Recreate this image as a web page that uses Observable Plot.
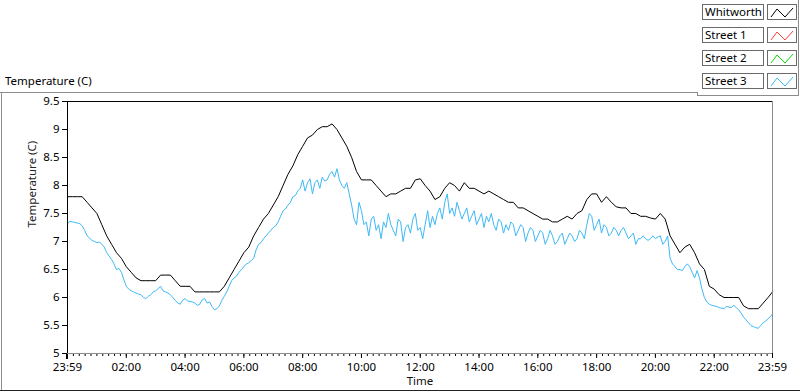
<!DOCTYPE html>
<html><head><meta charset="utf-8">
<script src="https://cdn.jsdelivr.net/npm/d3@7"></script>
<script src="https://cdn.jsdelivr.net/npm/@observablehq/plot@0.6"></script>
<style>
body{margin:0;background:#fff;font-family:"Noto Sans",sans-serif;}
#wrap{position:relative;width:800px;height:392px;overflow:hidden;background:#fff;}
#wrap svg.chart{position:absolute;left:0;top:0;}
.ln{position:absolute;background:#8c8c8c;}
.title{position:absolute;left:5px;top:74px;font-size:11.5px;line-height:14px;color:#000;white-space:nowrap;}
.lname{position:absolute;left:702px;width:62px;height:16px;box-sizing:border-box;border:1px solid #6a6a6a;font-size:11.5px;line-height:14px;padding-left:2px;color:#000;white-space:nowrap;background:#fff;}
.lsw{position:absolute;left:767px;width:30px;height:16px;box-sizing:border-box;border:1px solid #6a6a6a;background:#fff;}
.lsw svg{position:absolute;left:0;top:0;}
</style></head><body>
<div id="wrap"></div>
<script>
// ---- data ----
const whitworthStepMinutes = 10;
const whitworth = [
  7.8,7.8,7.8,7.8,
  7.7,7.6,7.5,7.3,7.1,6.95,
  6.8,6.7,6.55,6.45,6.35,
  6.3,6.3,6.3,6.3,
  6.4,6.4,6.4,
  6.3,
  6.2,6.2,6.2,
  6.1,6.1,6.1,6.1,6.1,6.1,
  6.2,6.35,6.5,6.65,6.8,6.9,7.1,
  7.25,7.4,7.5,7.65,7.8,
  8.0,8.2,8.35,8.55,8.7,8.85,
  8.9,9.0,9.05,9.05,9.1,
  9.0,8.85,8.7,8.5,8.25,
  8.1,8.1,8.1,8.0,7.9,
  7.8,7.85,7.85,7.9,7.95,7.95,
  8.1,8.12,8.0,7.9,7.75,
  7.8,7.95,8.05,8.0,7.9,
  8.05,7.95,7.95,7.9,7.85,
  7.9,7.85,7.8,7.75,7.7,
  7.7,7.6,7.6,7.55,7.5,
  7.45,7.4,7.4,7.35,7.35,
  7.4,7.45,7.4,7.5,7.55,
  7.75,7.85,7.85,7.7,7.8,
  7.7,7.62,7.6,7.6,7.5,
  7.5,7.45,7.45,7.42,7.4,
  7.5,7.4,7.1,6.95,6.8,
  6.9,6.95,6.8,6.6,6.5,
  6.2,6.15,6.05,6.0,6.0,
  6.0,6.0,5.85,5.8,5.8,
  5.8,5.9,6.0,6.1
];
const street3StepMinutes = 5;
const street3 = [
  7.32,7.36,7.35,7.34,7.33,7.32,7.28,7.2,7.1,7.06,
  7.02,7.0,6.98,6.99,6.95,6.9,6.8,6.74,6.68,6.6,
  6.5,6.52,6.45,6.32,6.2,6.15,6.12,6.1,6.08,6.06,
  6.05,6.0,5.98,6.02,6.05,6.1,6.12,6.16,6.2,6.12,
  6.1,6.08,6.05,6.0,5.95,5.9,5.88,5.95,5.98,5.94,
  5.93,5.92,5.9,5.86,5.88,5.96,5.98,5.9,5.92,5.84,
  5.78,5.8,5.85,5.95,6.02,6.1,6.2,6.3,6.35,6.38,
  6.45,6.5,6.55,6.6,6.62,6.66,6.7,6.85,6.95,6.98,
  7.05,7.1,7.15,7.2,7.25,7.28,7.35,7.45,7.55,7.58,
  7.65,7.7,7.8,7.82,7.9,7.95,8.1,7.9,8.05,8.12,
  7.85,8.05,8.1,7.95,8.15,8.08,8.1,8.2,8.25,8.15,
  8.3,8.1,8.0,7.95,8.05,7.85,7.65,7.4,7.3,7.7,
  7.55,7.3,7.35,7.1,7.4,7.45,7.2,7.3,7.05,7.35,
  7.25,7.5,7.3,7.2,7.1,7.4,7.35,7.0,7.25,7.3,
  7.15,7.4,7.5,7.2,7.25,7.05,7.3,7.55,7.25,7.45,
  7.3,7.5,7.6,7.4,7.7,7.85,7.5,7.6,7.45,7.7,
  7.55,7.4,7.5,7.6,7.35,7.45,7.55,7.3,7.4,7.5,
  7.25,7.45,7.35,7.5,7.3,7.2,7.4,7.35,7.15,7.3,
  7.2,7.35,7.3,7.1,7.2,7.3,7.25,7.0,7.15,7.25,
  7.2,7.0,7.1,7.2,7.15,6.95,7.05,7.2,7.1,6.95,
  7.0,7.1,7.15,6.95,7.05,7.15,7.1,7.0,7.05,7.2,
  7.15,7.05,7.3,7.5,7.45,7.2,7.3,7.4,7.15,7.3,
  7.25,7.1,7.15,7.25,7.2,7.1,7.2,7.25,7.15,7.05,
  7.1,7.15,6.95,7.05,7.05,7.1,7.05,7.02,7.05,7.1,
  7.05,7.08,7.1,6.95,7.0,7.1,6.7,6.6,6.55,6.5,
  6.5,6.48,6.55,6.6,6.55,6.45,6.35,6.48,6.35,6.15,
  6.0,5.92,5.88,5.86,5.85,5.84,5.82,5.81,5.8,5.84,
  5.83,5.82,5.86,5.82,5.78,5.72,5.65,5.6,5.55,5.5,
  5.48,5.46,5.45,5.5,5.55,5.58,5.62,5.66,5.71
];
const xTickMinutes = [0,120,240,360,480,600,720,840,960,1080,1200,1320,1439];
const xTickLabels = ["23:59","02:00","04:00","06:00","08:00","10:00","12:00","14:00","16:00","18:00","20:00","22:00","23:59"];
const yTicks = [5,5.5,6,6.5,7,7.5,8,8.5,9,9.5];
const seriesNames = ["Whitworth","Street 1","Street 2","Street 3"];
const seriesColors = ["#000000","#ff3a3a","#00dd00","#3db9f5"];

// ---- build tables ----
const toRows = (vals, step) => vals.map((v, i) => ({t: Math.min(i * step, 1439), v}));
const blackRows = toRows(whitworth, whitworthStepMinutes);
const blueRows = toRows(street3, street3StepMinutes);
const minorTicks = d3.range(0, 1440, 12);

const font = '"Noto Sans", sans-serif';
const chart = Plot.plot({
  width: 800, height: 392,
  marginLeft: 67, marginRight: 28, marginTop: 101, marginBottom: 39,
  x: {domain: [0, 1439]},
  y: {domain: [5, 9.5]},
  style: {fontFamily: font, fontSize: "11.5px", background: "transparent", color: "#000"},
  marks: [
    Plot.axisY(yTicks, {tickSize: 5, tickPadding: 3, tickFormat: d => String(d), label: null, stroke: "#000"}),
    Plot.axisX(minorTicks, {tickSize: 3, tickFormat: null, text: null, label: null, stroke: "#000"}),
    Plot.axisX(xTickMinutes, {tickSize: 5, tickPadding: 4, tickFormat: d => xTickLabels[xTickMinutes.indexOf(d)], label: null, stroke: "#000"}),
    Plot.text(["Temperature (C)"], {frameAnchor: "left", dx: -35, rotate: -90, fill: "#222", fontSize: 11.5}),
    Plot.text(["Time"], {frameAnchor: "bottom", dy: 31, fill: "#111", fontSize: 11.5}),
    Plot.line(blackRows, {x: "t", y: "v", stroke: seriesColors[0], strokeWidth: 1}),
    Plot.line(blueRows, {x: "t", y: "v", stroke: seriesColors[3], strokeWidth: 1}),
    Plot.ruleY([5], {stroke: "#8c8c8c"}),
    Plot.ruleX([1439], {stroke: "#8c8c8c"}),
    Plot.ruleY([9.5], {stroke: "#000"}),
    Plot.ruleX([0], {stroke: "#000"})
  ]
});
chart.classList.add("chart");
const wrap = document.getElementById("wrap");
wrap.appendChild(chart);

// ---- panel decoration ----
function ln(l, t, w, h, c) {
  const d = document.createElement("div");
  d.className = "ln";
  d.style.left = l + "px"; d.style.top = t + "px";
  d.style.width = w + "px"; d.style.height = h + "px";
  if (c) d.style.background = c;
  wrap.appendChild(d);
}
ln(0, 92, 698, 1);
ln(697, 92, 1, 4);
ln(697, 95, 102, 1);
ln(798, 0, 1, 96);
ln(1, 92, 1, 299);
ln(0, 390, 800, 1, "#222");
// thicker first major tick
ln(66, 354, 2, 5, "#000");

const title = document.createElement("div");
title.className = "title";
title.textContent = "Temperature (C)";
wrap.appendChild(title);

// ---- legend ----
seriesNames.forEach((name, k) => {
  const top = 4 + 23 * k;
  const n = document.createElement("div");
  n.className = "lname";
  n.style.top = top + "px";
  n.textContent = name;
  wrap.appendChild(n);
  const s = document.createElement("div");
  s.className = "lsw";
  s.style.top = top + "px";
  s.innerHTML = `<svg width="28" height="14"><polyline points="3,12 9,4 17,12 25,3" fill="none" stroke="${seriesColors[k]}" stroke-width="1"/></svg>`;
  wrap.appendChild(s);
});
</script>
</body></html>
